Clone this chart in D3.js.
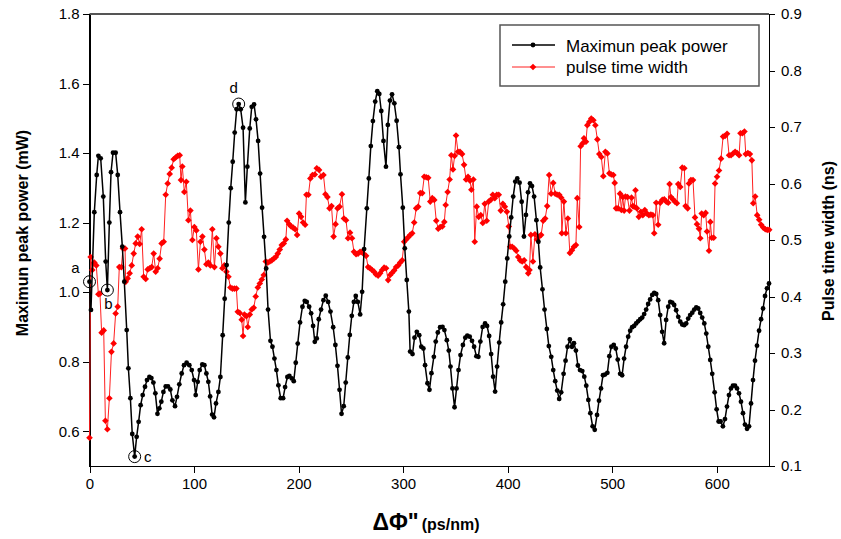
<!DOCTYPE html>
<meta charset="utf-8">
<head>
  <style>
  body { margin: 0; background: #fff; }
  svg { font-family: "Liberation Sans", Arial, sans-serif; }
  .axis path, .axis line { stroke: #000; shape-rendering: crispEdges; }
  .axis text { font-size: 15px; fill: #000; }
  .title { font-size: 16px; font-weight: bold; }
  </style>
</head>
<body>
<div id="graph"></div>
<script src="https://d3js.org/d3.v7.min.js"></script>
<script>

// x in ps/nm, value in mW
var peakPower = [
  [0,1.03],[1.4,0.949],[4.6,1.23],[6.9,1.337],[8.5,1.392],[10.7,1.385],[13.2,1.275],[15.5,1.088],[17.1,1.006],[19,1.2],
  [20.6,1.345],[22.5,1.401],[25,1.401],[27,1.337],[29.2,1.23],[31.4,1.131],[33.3,1.03],[35.6,0.891],[37.2,0.781],[39.1,0.695],
  [40.9,0.592],[43.2,0.527],[45.1,0.584],[47,0.627],[48.9,0.675],[50.9,0.704],[53.1,0.728],[55,0.747],[57.3,0.756],[59.2,0.753],
  [61.1,0.74],[63,0.709],[65,0.65],[66.8,0.666],[68.7,0.685],[70.7,0.713],[72.9,0.729],[75.1,0.729],[77.3,0.72],[79.3,0.689],
  [81.8,0.672],[83.7,0.699],[85.9,0.735],[88.2,0.766],[90.4,0.79],[92.9,0.797],[95.5,0.79],[97.8,0.776],[100,0.747],[101.6,0.704],
  [103.5,0.742],[105.4,0.776],[107.9,0.792],[109.9,0.79],[111.8,0.766],[113.7,0.742],[115.4,0.70],[117.3,0.648],[119.1,0.64],[121,0.68],
  [123.3,0.713],[125.2,0.756],[127.4,0.876],[129.3,0.981],[131.2,1.078],[133.2,1.2],[135.1,1.299],[137,1.375],[138.9,1.459],[140.8,1.526],
  [142.7,1.541],[144.6,1.526],[146.9,1.473],[149.1,1.258],[151,1.361],[153.3,1.471],[155.2,1.533],[157.4,1.54],[159.3,1.497],[161.3,1.435],
  [163.2,1.341],[165.1,1.243],[167,1.159],[169,1.068],[170.8,0.95],[173.1,0.86],[175,0.843],[176.9,0.809],[178.8,0.776],[180.7,0.732],
  [182.9,0.695],[185.2,0.695],[187.1,0.727],[189.3,0.756],[191.2,0.759],[193.5,0.752],[195.4,0.744],[197.3,0.797],[199.2,0.852],[201.4,0.913],
  [203.7,0.958],[205.9,0.975],[207.8,0.972],[210.1,0.958],[212,0.939],[213.9,0.903],[215.5,0.857],[217.4,0.867],[219.3,0.922],[221.5,0.95],
  [223.8,0.977],[226,0.99],[228.3,0.972],[230.5,0.944],[233.1,0.899],[235.2,0.848],[237.2,0.788],[239.2,0.719],[241.1,0.65],[243.2,0.672],
  [245.1,0.74],[247.1,0.812],[249,0.877],[250.9,0.932],[252.9,0.972],[254.7,0.989],[256.7,0.972],[258.9,0.936],[260.8,1.001],[262.7,1.124],
  [265.3,1.241],[267.2,1.327],[269.1,1.42],[271.1,1.492],[273.3,1.548],[275.3,1.578],[277.2,1.57],[279.1,1.521],[281.2,1.435],[283.6,1.361],
  [285.4,1.481],[287.4,1.551],[289.4,1.569],[291.6,1.543],[293.8,1.493],[296,1.417],[297.5,1.339],[299.7,1.243],[301.6,1.126],[303.5,1.035],
  [305.5,0.944],[306.7,0.829],[309,0.822],[310.9,0.869],[313.1,0.886],[315.4,0.876],[317.4,0.843],[319.4,0.838],[321,0.79],[323.3,0.738],
  [325.2,0.719],[327.1,0.767],[329.4,0.814],[331.2,0.858],[333.2,0.884],[335.4,0.899],[337.7,0.9],[339.5,0.891],[341.8,0.862],[343.7,0.832],
  [345.3,0.786],[347.2,0.723],[349.2,0.669],[351.1,0.723],[353,0.776],[354.9,0.819],[357.2,0.848],[359.5,0.869],[361.4,0.875],[363.7,0.872],
  [365.9,0.86],[367.9,0.843],[370.1,0.816],[372,0.814],[373.9,0.858],[376.1,0.9],[378.4,0.91],[380.3,0.903],[382.3,0.874],[384.2,0.822],
  [386.1,0.757],[388,0.714],[389.9,0.786],[391.9,0.855],[393.8,0.913],[395.7,0.965],[397.7,1.03],[399.6,1.097],[401.5,1.16],[403.4,1.215],
  [405.3,1.275],[407.3,1.318],[409.2,1.327],[411.4,1.315],[413.4,1.26],[415.6,1.16],[417.5,1.222],[419.5,1.287],[421.4,1.313],[423.3,1.305],
  [425.3,1.275],[427.5,1.207],[429.4,1.145],[431.1,1.071],[433.3,1.008],[435.3,0.95],[437.5,0.894],[439.4,0.845],[441.7,0.814],[443.6,0.776],
  [445.5,0.744],[447.4,0.717],[449.3,0.693],[451.2,0.712],[453.5,0.765],[455.4,0.803],[457.3,0.843],[459.5,0.864],[461.5,0.843],[463.4,0.853],
  [465.3,0.832],[467.2,0.789],[469.2,0.776],[471.4,0.773],[473.3,0.757],[475.2,0.731],[477.2,0.69],[479.1,0.652],[481.3,0.614],[483.3,0.604],
  [485.5,0.647],[487.4,0.688],[489.3,0.723],[491.2,0.761],[493.1,0.763],[495.4,0.768],[497.3,0.816],[499.2,0.843],[501.5,0.848],[503.4,0.838],
  [505.3,0.806],[507.6,0.765],[509.5,0.761],[511.4,0.809],[513.3,0.843],[515.3,0.872],[517.2,0.889],[519.1,0.899],[521,0.903],[522.9,0.91],
  [524.8,0.916],[526.8,0.922],[528.7,0.927],[530.6,0.937],[532.5,0.95],[534.4,0.966],[536.3,0.979],[538.3,0.992],[540.2,0.998],[542.1,0.995],
  [544,0.977],[545.9,0.934],[547.8,0.886],[549.7,0.853],[551.6,0.92],[553.6,0.958],[555.5,0.972],[557.4,0.97],[559.3,0.963],[561.2,0.948],
  [563.2,0.929],[565.1,0.915],[567,0.907],[568.9,0.905],[570.8,0.91],[572.7,0.924],[574.6,0.934],[576.6,0.941],[578.5,0.95],[580.4,0.956],
  [582.3,0.953],[584.2,0.94],[586.1,0.927],[588.1,0.91],[590,0.881],[591.9,0.843],[593.8,0.805],[595.7,0.765],[598,0.712],[599.9,0.663],
  [601.8,0.628],[603.7,0.628],[605.9,0.614],[607.9,0.635],[609.8,0.671],[611.7,0.704],[613.6,0.723],[615.5,0.731],[617.5,0.731],[619.4,0.723],
  [621.3,0.709],[623.2,0.685],[625.1,0.652],[627,0.619],[629,0.607],[630.9,0.614],[632.8,0.68],[634.7,0.747],[636.6,0.803],[638.5,0.846],
  [640.5,0.889],[642.4,0.922],[644.3,0.953],[646.2,0.989],[648.1,1.011],[650,1.025]
];

// x in ps/nm, value in ns
var pulseWidth = [
  [0,0.15],[1.1,0.47],[2.7,0.447],[4.6,0.46],[6.5,0.455],[8.5,0.404],[10,0.405],[11.6,0.336],[13.6,0.34],[15.2,0.18],
  [17.1,0.165],[19,0.22],[21,0.302],[23.1,0.317],[25,0.37],[27,0.382],[28.5,0.452],[30.5,0.452],[32,0.485],[34,0.485],
  [34.6,0.426],[36.5,0.432],[38.4,0.441],[40.4,0.455],[42.3,0.476],[44.2,0.494],[46.1,0.506],[48,0.493],[49.9,0.519],[51.8,0.435],
  [53.8,0.431],[55.7,0.448],[57.6,0.45],[59.5,0.452],[61.4,0.476],[63.3,0.444],[65.2,0.45],[67.1,0.467],[69,0.494],[71,0.497],
  [72.9,0.58],[74.8,0.6],[76.7,0.617],[78.6,0.628],[80.5,0.643],[82.4,0.646],[84.4,0.649],[86.3,0.65],[87.5,0.606],[88.8,0.63],
  [90.7,0.585],[92.6,0.603],[94.6,0.535],[96.5,0.552],[98.4,0.5],[100.3,0.523],[102.2,0.517],[104.2,0.448],[106.1,0.497],[108,0.506],
  [109.9,0.483],[111.8,0.457],[113.7,0.46],[115.6,0.455],[117.5,0.519],[119.5,0.452],[121.4,0.503],[123.3,0.488],[125.2,0.476],[127.1,0.45],
  [129,0.455],[131,0.444],[132.9,0.435],[134.8,0.416],[136.7,0.414],[138.6,0.414],[140.5,0.414],[141.8,0.373],[143.7,0.371],[145.6,0.359],
  [146.9,0.33],[148.2,0.368],[150.1,0.365],[151.4,0.346],[153.3,0.368],[155.2,0.377],[157.1,0.38],[159,0.4],[161,0.416],[162.9,0.423],
  [164.8,0.43],[166.7,0.438],[168.6,0.462],[170.5,0.46],[172.4,0.462],[174.3,0.464],[176.3,0.467],[178.2,0.47],[180.1,0.476],[182,0.483],
  [183.9,0.491],[185.8,0.494],[187.8,0.501],[189,0.534],[191,0.528],[192.9,0.524],[194.8,0.522],[196.7,0.519],[198.6,0.509],[200.5,0.547],
  [202.4,0.541],[204.3,0.531],[206.3,0.527],[207.5,0.58],[209.4,0.58],[211.3,0.609],[213.3,0.615],[215.5,0.616],[217.4,0.627],[219.6,0.624],
  [221.5,0.612],[223.8,0.615],[225.7,0.581],[227.6,0.576],[229.6,0.556],[231.5,0.56],[233.5,0.506],[235.4,0.528],[237.3,0.556],[239.2,0.559],
  [241.5,0.581],[243.4,0.538],[245.4,0.535],[247.3,0.503],[249.2,0.513],[251.1,0.503],[253,0.479],[255,0.475],[256.9,0.476],[258.8,0.479],
  [260.7,0.479],[262.6,0.475],[264.6,0.472],[266.5,0.452],[268.4,0.45],[270.3,0.447],[272.2,0.444],[274.1,0.439],[276.1,0.437],[278,0.441],
  [279.9,0.447],[281.8,0.451],[283.7,0.45],[285.7,0.429],[287.6,0.438],[289.5,0.442],[291.4,0.446],[293.3,0.452],[295.3,0.455],[297.2,0.46],
  [299.1,0.464],[301,0.497],[302.9,0.501],[304.9,0.505],[306.8,0.509],[308.7,0.512],[310.6,0.531],[312.5,0.556],[314.4,0.559],[316.4,0.583],
  [318.3,0.583],[320.2,0.612],[322.1,0.611],[324,0.61],[326,0.568],[327.9,0.574],[329.8,0.571],[331.7,0.534],[333.6,0.52],[335.5,0.523],
  [337.5,0.524],[339.4,0.532],[340.7,0.562],[342.6,0.585],[344.5,0.607],[346.1,0.65],[347.7,0.625],[349.3,0.649],[350.6,0.685],[352.5,0.656],
  [354.4,0.656],[356.4,0.652],[358.3,0.633],[360.2,0.607],[362.1,0.612],[364,0.605],[365.3,0.589],[367.2,0.607],[368.5,0.497],[370.4,0.559],
  [372.3,0.541],[374.3,0.544],[376.2,0.53],[378.1,0.564],[380,0.534],[381.9,0.568],[383.8,0.571],[385.8,0.58],[387.7,0.574],[389.6,0.58],
  [391.5,0.58],[393.4,0.552],[395.4,0.564],[397.3,0.559],[399.2,0.55],[401.1,0.524],[402.4,0.488],[404.3,0.488],[406.3,0.485],[408.2,0.481],
  [410.1,0.47],[412,0.464],[413.9,0.462],[415.8,0.464],[417.7,0.452],[419.7,0.441],[420.9,0.447],[422.2,0.509],[424.2,0.462],[426.1,0.51],
  [428,0.501],[430.1,0.506],[432,0.509],[434,0.534],[435.9,0.538],[437.8,0.56],[439.7,0.615],[441.6,0.582],[443.6,0.601],[445.5,0.582],
  [447.4,0.58],[449.3,0.58],[451.2,0.575],[451.8,0.512],[453.8,0.568],[455.7,0.512],[457.6,0.538],[459.5,0.477],[461.5,0.482],[463.4,0.488],
  [465.3,0.491],[466.6,0.574],[468.5,0.523],[469.8,0.666],[471.7,0.671],[473,0.68],[474.9,0.674],[476.2,0.703],[478.1,0.709],[480,0.715],
  [482,0.712],[483.9,0.703],[485.8,0.678],[487.7,0.652],[489.6,0.647],[491.5,0.613],[493.5,0.656],[495.4,0.653],[497.3,0.618],[499.2,0.616],
  [501.1,0.615],[502.4,0.601],[503.7,0.556],[505.6,0.556],[507.5,0.582],[508.8,0.553],[510.1,0.576],[511.4,0.552],[512.7,0.577],[514.6,0.576],
  [516.5,0.552],[518.5,0.575],[519.7,0.56],[521,0.559],[522.3,0.588],[523.6,0.556],[525.5,0.541],[527.4,0.55],[529.3,0.544],[531.2,0.553],
  [533.2,0.547],[535.1,0.544],[537,0.545],[538.9,0.544],[540.2,0.512],[542.1,0.566],[544,0.527],[546,0.566],[547.9,0.571],[549.8,0.572],
  [551.7,0.568],[553.6,0.566],[554.9,0.599],[556.2,0.576],[558.1,0.572],[560,0.568],[561.9,0.565],[563.2,0.599],[565.1,0.594],[567,0.628],
  [569,0.627],[570.2,0.56],[572.2,0.556],[573.4,0.6],[575.3,0.606],[577.3,0.606],[579.2,0.54],[581.1,0.528],[583,0.52],[584.3,0.503],
  [585.6,0.547],[587.5,0.544],[589.4,0.548],[590.7,0.515],[592.6,0.481],[593.9,0.532],[595.2,0.504],[597.1,0.504],[598.4,0.6],[600.3,0.612],
  [602.2,0.623],[604.1,0.644],[606.1,0.683],[608,0.684],[609.9,0.688],[611.8,0.65],[613.7,0.65],[615.6,0.653],[617.6,0.656],[619.5,0.654],
  [621.4,0.65],[622.7,0.689],[624.6,0.689],[626.5,0.692],[627.8,0.652],[629.8,0.654],[631.7,0.652],[633.6,0.641],[634.9,0.565],[636.8,0.577],
  [638.7,0.544],[640.6,0.536],[642.5,0.527],[644.5,0.522],[646.4,0.519],[648.3,0.518],[650.2,0.518]
];

var xTicks = [0, 100, 200, 300, 400, 500, 600];
var leftTicks = [0.6, 0.8, 1.0, 1.2, 1.4, 1.6, 1.8];
var rightTicks = [0.1, 0.2, 0.3, 0.4, 0.5, 0.6, 0.7, 0.8, 0.9];
var seriesNames = ["Maximun peak power", "pulse time width"];

// marked points a-d on the peak power curve
var marks = [
  {name: "a", x: 0, y: 1.03},
  {name: "b", x: 17.1, y: 1.006},
  {name: "c", x: 43.2, y: 0.527},
  {name: "d", x: 142.7, y: 1.541}
];

var W = 841, H = 539;
var margin = {top: 14, right: 72, bottom: 73, left: 89.5};

var svg = d3.select("#graph").append("svg")
  .attr("width", W)
  .attr("height", H);

var x = d3.scaleLinear().domain([0, 650]).range([margin.left, W - margin.right]);
var yL = d3.scaleLinear().domain([0.5, 1.8]).range([H - margin.bottom, margin.top]);
var yR = d3.scaleLinear().domain([0.1, 0.9]).range([H - margin.bottom, margin.top]);

// top frame
svg.append("line")
  .attr("x1", x(0)).attr("x2", x(650))
  .attr("y1", yL(1.8)).attr("y2", yL(1.8))
  .attr("stroke", "#555").attr("stroke-width", 2);

svg.append("g")
  .attr("class", "axis")
  .attr("transform", "translate(0," + yL(0.5) + ")")
  .call(d3.axisBottom(x).tickValues(xTicks).tickSize(7).tickPadding(5).tickSizeOuter(0));

svg.append("g")
  .attr("class", "axis")
  .attr("transform", "translate(" + x(0) + ",0)")
  .call(d3.axisLeft(yL).tickValues(leftTicks).tickFormat(d3.format(".1f")).tickSize(7).tickPadding(3).tickSizeOuter(0));

svg.append("g")
  .attr("class", "axis")
  .attr("transform", "translate(" + x(650) + ",0)")
  .call(d3.axisRight(yR).tickValues(rightTicks).tickFormat(d3.format(".1f")).tickSize(6).tickPadding(6).tickSizeOuter(0));

svg.selectAll(".axis .domain").attr("stroke-width", 1.5);

// pulse time width (red, right axis)
var redLine = d3.line().x(function(d){ return x(d[0]); }).y(function(d){ return yR(d[1]); });
svg.append("path")
  .datum(pulseWidth)
  .attr("fill", "none")
  .attr("stroke", "#ff2020")
  .attr("stroke-width", 1)
  .attr("d", redLine);

var diamond = d3.symbol().type(d3.symbolSquare).size(22);
svg.append("g").selectAll("path")
  .data(pulseWidth)
  .enter().append("path")
  .attr("d", diamond)
  .attr("fill", "#ff0000")
  .attr("transform", function(d){ return "translate(" + x(d[0]) + "," + yR(d[1]) + ") rotate(45)"; });

// maximum peak power (black, left axis)
var blackLine = d3.line().x(function(d){ return x(d[0]); }).y(function(d){ return yL(d[1]); });
svg.append("path")
  .datum(peakPower)
  .attr("fill", "none")
  .attr("stroke", "#000")
  .attr("stroke-width", 1.5)
  .attr("d", blackLine);

svg.append("g").selectAll("circle")
  .data(peakPower)
  .enter().append("circle")
  .attr("cx", function(d){ return x(d[0]); })
  .attr("cy", function(d){ return yL(d[1]); })
  .attr("r", 2.4)
  .attr("fill", "#000");

// annotation circles
var mk = svg.append("g").selectAll("g").data(marks).enter().append("g");
mk.append("circle")
  .attr("cx", function(d){ return x(d.x); })
  .attr("cy", function(d){ return yL(d.y); })
  .attr("r", 6)
  .attr("fill", "none")
  .attr("stroke", "#000")
  .attr("stroke-width", 1);
var labelOffset = {a: [-14, -9], b: [1, 19], c: [13, 5], d: [-5, -11]};
mk.append("text")
  .attr("x", function(d){ return x(d.x) + labelOffset[d.name][0]; })
  .attr("y", function(d){ return yL(d.y) + labelOffset[d.name][1]; })
  .attr("text-anchor", "middle")
  .style("font-size", "15px")
  .text(function(d){ return d.name; });

// legend
var lg = svg.append("g").attr("transform", "translate(500,25)");
lg.append("rect")
  .attr("width", 259).attr("height", 61)
  .attr("fill", "#fff").attr("stroke", "#555").attr("stroke-width", 1.5);
lg.append("line").attr("x1", 12).attr("x2", 55).attr("y1", 20).attr("y2", 20)
  .attr("stroke", "#000").attr("stroke-width", 1.5);
lg.append("circle").attr("cx", 33).attr("cy", 20).attr("r", 2.4).attr("fill", "#000");
lg.append("line").attr("x1", 12).attr("x2", 55).attr("y1", 42).attr("y2", 42)
  .attr("stroke", "#ff2020").attr("stroke-width", 1);
lg.append("path").attr("d", diamond).attr("fill", "#ff0000")
  .attr("transform", "translate(33,42) rotate(45)");
lg.selectAll(".lt").data(seriesNames).enter().append("text")
  .attr("x", 66)
  .attr("y", function(d, i){ return 27 + i * 21; })
  .style("font-size", "17px")
  .text(function(d){ return d; });

// axis titles
svg.append("text")
  .attr("class", "title")
  .attr("transform", "translate(28,233) rotate(-90)")
  .attr("text-anchor", "middle")
  .text("Maximun peak power (mW)");

svg.append("text")
  .attr("class", "title")
  .attr("transform", "translate(834,241) rotate(-90)")
  .attr("text-anchor", "middle")
  .text("Pulse time width (ns)");

var xt = svg.append("text")
  .attr("x", 426).attr("y", 530)
  .attr("text-anchor", "middle")
  .style("font-weight", "bold");
xt.append("tspan").style("font-size", "23px").text("ΔΦ\"");
xt.append("tspan").style("font-size", "16px").attr("dx", 3).text("(ps/nm)");

</script>
</body>
</html>
